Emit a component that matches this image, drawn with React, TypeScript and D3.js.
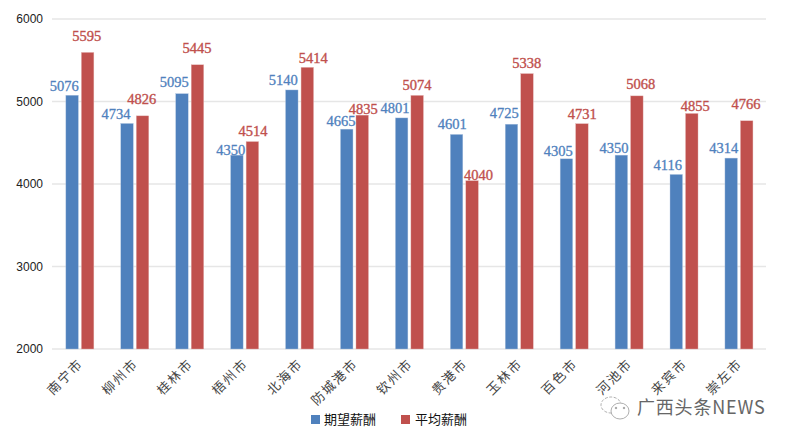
import * as d3 from "d3";

const cities = ["南宁市", "柳州市", "桂林市", "梧州市", "北海市", "防城港市", "钦州市", "贵港市", "玉林市", "百色市", "河池市", "来宾市", "崇左市"];
const expected = [5076, 4734, 5095, 4350, 5140, 4665, 4801, 4601, 4725, 4305, 4350, 4116, 4314];
const average = [5595, 4826, 5445, 4514, 5414, 4835, 5074, 4040, 5338, 4731, 5068, 4855, 4766];
const yTicks = [2000, 3000, 4000, 5000, 6000];
const seriesNames = ["期望薪酬", "平均薪酬"];
const watermark = "广西头条NEWS";

// the value labels were dragged by hand in the original, so each one has its own nudge
const expectedDx = [-7.8, -11, -7.6, -6.2, -8.5, -5.7, -6.6, -4.2, -7.2, -8.1, -7.3, -8.5, -7.4];
const expectedDy = [-9.2, -9.1, -11.4, -5.1, -9.7, -8.4, -9.6, -10.4, -11.5, -8.1, -6.8, -9.1, -9.8];
const averageDx = [-0.9, -0.8, -0.4, 0.6, 6, 1.1, -0.1, 6.3, -0.3, 0.4, 3.9, 3.6, -0.6];
const averageDy = [-16.7, -16.6, -16.8, -10.9, -9.6, -6.4, -10.7, -5.4, -10.3, -10, -12.2, -7.8, -17.1];

const BLUE = "#4f81bd";
const RED = "#c0504d";
const CJK = "'Noto Sans CJK SC', sans-serif";
const LATIN = "'Liberation Sans', Arial, sans-serif";
const SERIF = "'Liberation Serif', serif";

const x = d3.scaleBand<string>().domain(cities).range([52.4, 766.4]);
const x1 = d3.scaleBand<string>().domain(seriesNames).range([0, x.bandwidth()]).paddingInner(0.194).paddingOuter(0.868);
const y = d3.scaleLinear().domain([2000, 6000]).range([349, 19]);

export default function App() {
  return (
    <svg width={790} height={443} style={{ position: "absolute", left: 0, top: 0, background: "#fff" }}>
      {yTicks.map((t) => (
        <g key={t}>
          <line x1={52} x2={766} y1={y(t)} y2={y(t)} stroke="#e6e6e6" strokeWidth={1.5} />
          <text x={43} y={y(t)} dy="0.35em" textAnchor="end" fontFamily={LATIN} fontSize={12} fill="#222">{t}</text>
        </g>
      ))}
      {cities.map((c, i) => {
        const bx = x(c)! + x1(seriesNames[0])!;
        const rx = x(c)! + x1(seriesNames[1])!;
        const w = x1.bandwidth();
        const cx = x(c)! + x.bandwidth() / 2;
        return (
          <g key={c}>
            <rect x={bx} y={y(expected[i])} width={w} height={y(2000) - y(expected[i])} fill={BLUE} stroke="#b4c8e2" strokeWidth={0.4} />
            <rect x={rx} y={y(average[i])} width={w} height={y(2000) - y(average[i])} fill={RED} stroke="#e3b5b3" strokeWidth={0.4} />
            <text x={bx + w / 2 + expectedDx[i]} y={y(expected[i]) + expectedDy[i]} dy="0.35em" textAnchor="middle" fontFamily={SERIF} fontSize={14.5} fill={BLUE} stroke={BLUE} strokeWidth={0.3}>{expected[i]}</text>
            <text x={rx + w / 2 + averageDx[i]} y={y(average[i]) + averageDy[i]} dy="0.35em" textAnchor="middle" fontFamily={SERIF} fontSize={14.5} fill={RED} stroke={RED} strokeWidth={0.35}>{average[i]}</text>
            <text transform={`translate(${cx + 1},${361}) rotate(-45)`} textAnchor="end" dy="0.35em" fontFamily={CJK} fontSize={13} letterSpacing={1.8} fill="#444">{c}</text>
          </g>
        );
      })}
      <rect x={311} y={415} width={9} height={9} fill={BLUE} />
      <text x={324} y={419.5} dy="0.35em" fontFamily={CJK} fontSize={13} fill="#111">{seriesNames[0]}</text>
      <rect x={401} y={415} width={9} height={9} fill={RED} />
      <text x={415} y={419.5} dy="0.35em" fontFamily={CJK} fontSize={13} fill="#111">{seriesNames[1]}</text>
      <g fill="#fff" stroke="#999" strokeWidth={0.8}>
        <ellipse cx={611} cy={405} rx={10} ry={8} strokeDasharray="3 1.5" />
        <ellipse cx={620} cy={411} rx={9} ry={8} />
        <circle cx={616} cy={408} r={0.8} fill="#999" />
        <circle cx={624} cy={408} r={0.8} fill="#999" />
      </g>
      <text x={637} y={408} dy="0.35em" fontFamily={CJK} fontSize={18} letterSpacing={0.8} fill="#666">{watermark}</text>
    </svg>
  );
}
